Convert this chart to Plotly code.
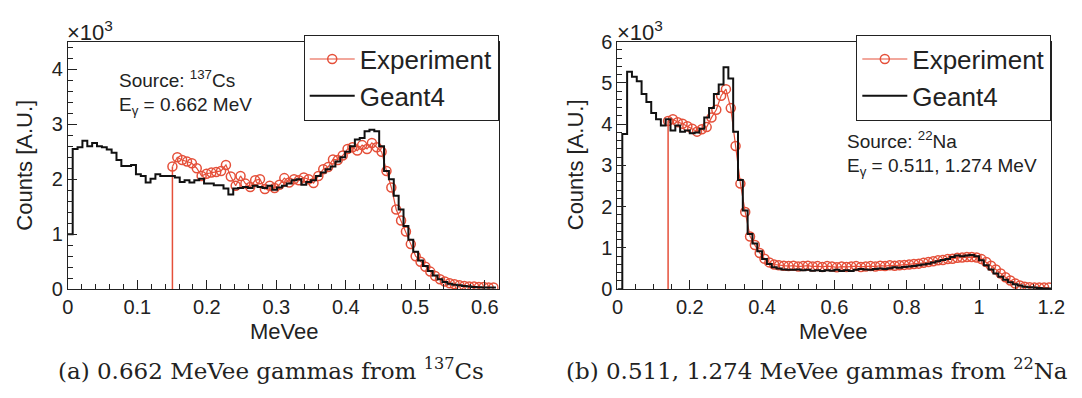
import numpy as np
import plotly.graph_objects as go

# ---------------- data (counts in units of 10^3) ----------------
# Panel (a): 137Cs, bin width 0.007 MeVee, 88 bins from 0
cs_bin_width = 0.007
cs_geant4 = [1.00, 2.55, 2.58, 2.70, 2.60, 2.66, 2.60, 2.58, 2.54, 2.48,
             2.35, 2.24, 2.24, 2.26, 2.09, 2.06, 1.94, 2.01, 2.09, 2.06,
             2.06, 2.06, 2.03, 1.95, 1.98, 1.94, 1.98, 2.01, 1.92, 1.92,
             1.89, 1.89, 1.83, 1.72, 1.83, 1.84, 1.86, 1.84, 1.88, 1.86,
             1.84, 1.88, 1.81, 1.85, 1.88, 1.92, 1.98, 2.00, 1.90, 1.95,
             1.98, 2.06, 2.12, 2.18, 2.23, 2.32, 2.40, 2.50, 2.60, 2.72,
             2.75, 2.87, 2.90, 2.87, 2.60, 2.15, 2.00, 1.70, 1.45, 1.15,
             0.90, 0.68, 0.52, 0.42, 0.33, 0.25, 0.18, 0.13, 0.10, 0.08,
             0.07, 0.06, 0.05, 0.04, 0.035, 0.03, 0.03, 0.03]
cs_exp_start_bin = 21
cs_experiment = [2.23, 2.40, 2.35, 2.32, 2.29, 2.20, 2.06, 2.10, 2.12, 2.13,
                 2.15, 2.26, 2.05, 1.88, 2.06, 1.92, 1.86, 1.98, 2.00, 1.82,
                 1.88, 1.84, 1.90, 2.02, 1.94, 2.00, 1.98, 2.03, 2.00, 1.93,
                 2.06, 2.18, 2.22, 2.36, 2.35, 2.43, 2.55, 2.58, 2.52, 2.62,
                 2.55, 2.66, 2.58, 2.50, 2.15, 1.85, 1.45, 1.25, 1.05, 0.82,
                 0.60, 0.50, 0.41, 0.32, 0.24, 0.18, 0.14, 0.11, 0.09, 0.07,
                 0.06, 0.05, 0.05, 0.04, 0.04, 0.03, 0.03]

# Panel (b): 22Na, 90 bins from 0 to 1.2 MeVee
na_bin_width = 1.2 / 90
na_geant4 = [0.00, 3.76, 5.27, 5.15, 5.04, 4.73, 4.54, 4.27, 4.12, 3.97,
             4.12, 3.85, 3.97, 3.82, 3.85, 3.78, 3.80, 3.89, 4.16, 4.39,
             4.73, 4.96, 5.38, 5.11, 3.82, 2.65, 1.91, 1.34, 1.11, 0.92,
             0.73, 0.61, 0.53, 0.50, 0.48, 0.47, 0.47, 0.48, 0.46, 0.47,
             0.45, 0.46, 0.44, 0.46, 0.45, 0.47, 0.44, 0.46, 0.44, 0.47,
             0.49, 0.48, 0.47, 0.49, 0.50, 0.49, 0.51, 0.53, 0.52, 0.54,
             0.55, 0.56, 0.58, 0.60, 0.62, 0.65, 0.68, 0.71, 0.73, 0.78,
             0.82, 0.80, 0.82, 0.83, 0.80, 0.70, 0.58, 0.48, 0.38, 0.30,
             0.23, 0.17, 0.12, 0.09, 0.06, 0.05, 0.04, 0.03, 0.02, 0.02]
na_exp_start_bin = 10
na_experiment = [4.08, 4.12, 4.05, 4.01, 3.95, 3.89, 3.82, 3.88, 3.93, 4.16,
                 4.35, 4.69, 4.85, 4.39, 3.47, 2.56, 1.87, 1.28, 1.07, 0.88,
                 0.74, 0.65, 0.60, 0.58, 0.57, 0.56, 0.57, 0.55, 0.56, 0.57,
                 0.55, 0.56, 0.54, 0.56, 0.55, 0.53, 0.55, 0.54, 0.55, 0.56,
                 0.54, 0.55, 0.56, 0.55, 0.57, 0.56, 0.58, 0.57, 0.58, 0.59,
                 0.60, 0.61, 0.62, 0.64, 0.66, 0.68, 0.70, 0.71, 0.73, 0.74,
                 0.76, 0.77, 0.78, 0.78, 0.77, 0.73, 0.66, 0.57, 0.48, 0.38,
                 0.29, 0.21, 0.14, 0.09, 0.06, 0.05, 0.04, 0.04, 0.04, 0.04]

cs_xticks = [0, 0.1, 0.2, 0.3, 0.4, 0.5, 0.6]
cs_xticklabels = ["0", "0.1", "0.2", "0.3", "0.4", "0.5", "0.6"]
cs_yticks = [0, 1, 2, 3, 4]
na_xticks = [0, 0.2, 0.4, 0.6, 0.8, 1.0, 1.2]
na_xticklabels = ["0", "0.2", "0.4", "0.6", "0.8", "1", "1.2"]
na_yticks = [0, 1, 2, 3, 4, 5, 6]

# ---------------- style ----------------
RED = "#e5503a"
INK = "#222222"
SANS = "Liberation Sans, Arial, sans-serif"
SERIF = "DejaVu Serif, Liberation Serif, serif"
W, H = 1082, 398


def step_xy(width, vals):
    n = len(vals)
    x = [i * width for i in range(n + 1)]
    y = list(vals) + [vals[-1]]
    return x, y


def centers(width, start, n):
    return [(start + i + 0.5) * width for i in range(n)]


fig = go.Figure()


def add_panel(width, g4, exp, start, xa, ya, legend):
    ex = centers(width, start, len(exp))
    # threshold vertical line of the experimental histogram
    fig.add_trace(go.Scatter(x=[ex[0], ex[0]], y=[0, exp[0]], mode="lines",
                             line=dict(color=RED, width=1.5), showlegend=False,
                             hoverinfo="skip", xaxis=xa, yaxis=ya))
    fig.add_trace(go.Scatter(x=ex, y=exp, mode="lines+markers", name="Experiment",
                             line=dict(color=RED, width=1.2),
                             marker=dict(symbol="circle-open", size=9, color=RED,
                                         line=dict(width=1.5, color=RED)),
                             xaxis=xa, yaxis=ya, legend=legend))
    gx, gy = step_xy(width, g4)
    fig.add_trace(go.Scatter(x=gx, y=gy, mode="lines", name="Geant4",
                             line=dict(color="#111111", width=2, shape="hv"),
                             xaxis=xa, yaxis=ya, legend=legend))


add_panel(cs_bin_width, cs_geant4, cs_experiment, cs_exp_start_bin, "x", "y", "legend")
add_panel(na_bin_width, na_geant4, na_experiment, na_exp_start_bin, "x2", "y2", "legend2")


def axis_style(**kw):
    d = dict(showline=True, linecolor=INK, linewidth=1, mirror=True,
             ticks="inside", ticklen=9, tickwidth=1, tickcolor=INK,
             showgrid=False, zeroline=False,
             tickfont=dict(family=SANS, size=20, color=INK))
    d.update(kw)
    return d


def legend_style(xr):
    return dict(x=xr / W, y=1 - 25 / H, xanchor="right", yanchor="top",
                bgcolor="white", bordercolor=INK, borderwidth=1, itemwidth=45,
                font=dict(family=SANS, size=26, color=INK), tracegroupgap=0)


ydom = [1 - 294.5 / H, 1 - 32.5 / H]
fig.update_layout(
    width=W, height=H, margin=dict(l=0, r=0, t=0, b=0),
    paper_bgcolor="white", plot_bgcolor="white",
    xaxis=axis_style(domain=[63 / W, 502 / W], range=[0, 0.62], anchor="y",
                     tickvals=cs_xticks, ticktext=cs_xticklabels,
                     minor=dict(ticks="inside", ticklen=5, dtick=0.02, tickcolor=INK)),
    yaxis=axis_style(domain=ydom, range=[0, 4.5], anchor="x", tickvals=cs_yticks,
                     minor=dict(ticks="inside", ticklen=5, dtick=0.2, tickcolor=INK)),
    xaxis2=axis_style(domain=[623 / W, 1065 / W], range=[0, 1.2], anchor="y2",
                      tickvals=na_xticks, ticktext=na_xticklabels,
                      minor=dict(ticks="inside", ticklen=5, dtick=0.05, tickcolor=INK)),
    yaxis2=axis_style(domain=ydom, range=[0, 6], anchor="x2", tickvals=na_yticks,
                      minor=dict(ticks="inside", ticklen=5, dtick=0.2, tickcolor=INK)),
    legend=legend_style(502),
    legend2=legend_style(1065),
    showlegend=True,
)


def ann(text, x, y, size, family=SANS, xanchor="left", yanchor="middle", angle=0):
    fig.add_annotation(text=text, x=x / W, y=1 - y / H, xref="paper", yref="paper",
                       showarrow=False, xanchor=xanchor, yanchor=yanchor, textangle=angle,
                       font=dict(family=family, size=size, color=INK))


# multiplier labels
ann("×10<sup>3</sup>", 60, 21, 22)
ann("×10<sup>3</sup>", 620, 21, 22)
# source labels
ann("Source: <sup>137</sup>Cs", 113, 72, 19)
ann("E<sub>γ</sub> = 0.662 MeV", 113, 101, 19)
ann("Source: <sup>22</sup>Na", 855, 137, 19)
ann("E<sub>γ</sub> = 0.511, 1.274 MeV", 855, 165, 19)
# axis titles
ann("Counts [A.U.]", 19, 163, 22, xanchor="center", angle=-90)
ann("Counts [A.U.]", 581, 163, 22, xanchor="center", angle=-90)
ann("MeVee", 284, 339, 22, xanchor="center")
ann("MeVee", 843, 339, 22, xanchor="center")
# captions
ann("(a) 0.662 MeVee gammas from <sup>137</sup>Cs", 270, 379, 23, family=SERIF, xanchor="center")
ann("(b) 0.511, 1.274 MeVee gammas from <sup>22</sup>Na", 826, 379, 23, family=SERIF, xanchor="center")

fig.write_html("out.html")
